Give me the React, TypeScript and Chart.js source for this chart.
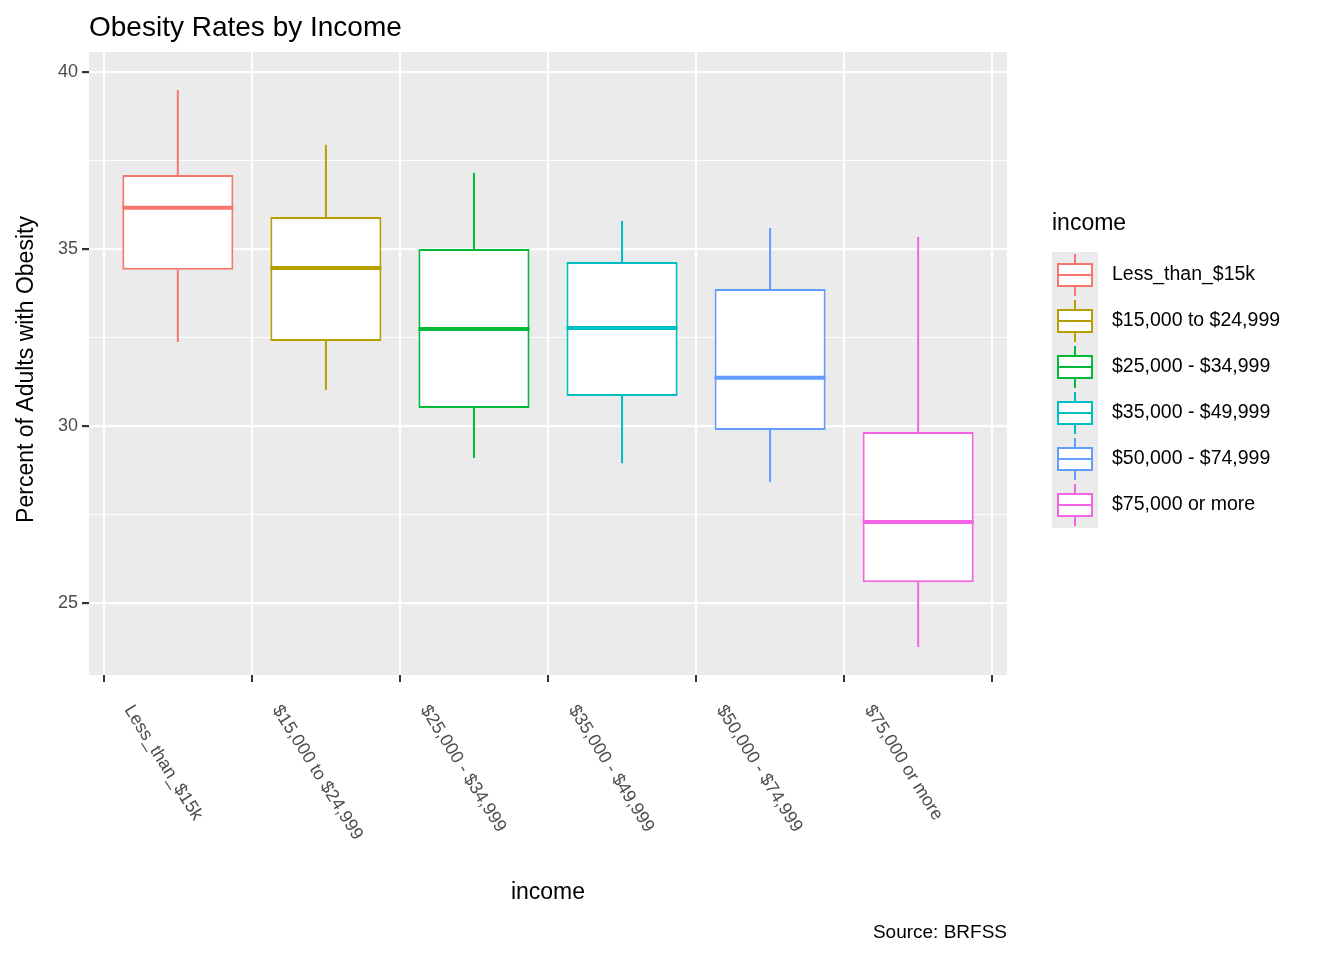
import { useEffect, useRef } from "react";
import { Chart, registerables } from "chart.js";

Chart.register(...registerables);

const categories = [
  "Less_than_$15k",
  "$15,000 to $24,999",
  "$25,000 - $34,999",
  "$35,000 - $49,999",
  "$50,000 - $74,999",
  "$75,000 or more",
];
const lowWhisker = [32.37, 31.02, 29.1, 28.95, 28.42, 23.76];
const q1 = [34.41, 32.4, 30.51, 30.85, 29.89, 25.59];
const median = [36.16, 34.46, 32.74, 32.77, 31.36, 27.29];
const q3 = [37.09, 35.9, 35.0, 34.63, 33.87, 29.83];
const highWhisker = [39.49, 37.94, 37.15, 35.79, 35.59, 35.34];
const colors = ["#F8766D", "#B79F00", "#00BA38", "#00BFC4", "#619CFF", "#F564E3"];

const FONT = "Helvetica, Arial, 'Liberation Sans', sans-serif";

const boxPlugin = {
  id: "boxParts",
  beforeDraw(chart: any) {
    const { ctx, chartArea: a } = chart;
    ctx.save();
    ctx.fillStyle = "#EBEBEB";
    ctx.fillRect(a.left, a.top, a.right - a.left, a.bottom - a.top);
    ctx.restore();
  },
  beforeDatasetsDraw(chart: any) {
    const { ctx } = chart;
    const x = chart.scales.x;
    const y = chart.scales.y;
    ctx.save();
    ctx.lineWidth = 2;
    categories.forEach((_, i) => {
      const px = x.getPixelForValue(i);
      ctx.strokeStyle = colors[i];
      ctx.beginPath();
      ctx.moveTo(px, y.getPixelForValue(highWhisker[i]));
      ctx.lineTo(px, y.getPixelForValue(q3[i]));
      ctx.moveTo(px, y.getPixelForValue(q1[i]));
      ctx.lineTo(px, y.getPixelForValue(lowWhisker[i]));
      ctx.stroke();
    });
    ctx.restore();
  },
  afterDatasetsDraw(chart: any) {
    const { ctx, chartArea: a } = chart;
    const x = chart.scales.x;
    const y = chart.scales.y;
    const step = x.getPixelForValue(1) - x.getPixelForValue(0);
    ctx.save();
    ctx.lineWidth = 4;
    categories.forEach((_, i) => {
      const px = x.getPixelForValue(i);
      const py = y.getPixelForValue(median[i]);
      ctx.strokeStyle = colors[i];
      ctx.beginPath();
      ctx.moveTo(px - step * 0.375, py);
      ctx.lineTo(px + step * 0.375, py);
      ctx.stroke();
    });

    // x tick labels rotated
    ctx.fillStyle = "#4D4D4D";
    ctx.font = `18px ${FONT}`;
    categories.forEach((c, i) => {
      const px = x.getPixelForValue(i);
      ctx.save();
      ctx.translate(px - 42, a.bottom + 27);
      ctx.rotate((58 * Math.PI) / 180);
      ctx.textAlign = "left";
      ctx.textBaseline = "top";
      ctx.fillText(c, 0, 0);
      ctx.restore();
    });

    // titles
    ctx.fillStyle = "#000";
    ctx.textBaseline = "middle";
    ctx.font = `28px ${FONT}`;
    ctx.textAlign = "left";
    ctx.fillText("Obesity Rates by Income", 89, 28);
    ctx.font = `23px ${FONT}`;
    ctx.textAlign = "center";
    ctx.fillText("income", (a.left + a.right) / 2, 893);
    ctx.save();
    ctx.translate(27, (a.top + a.bottom) / 2 + 6);
    ctx.rotate(-Math.PI / 2);
    ctx.fillText("Percent of Adults with Obesity", 0, 0);
    ctx.restore();
    ctx.font = `19px ${FONT}`;
    ctx.textAlign = "right";
    ctx.fillText("Source: BRFSS", a.right, 933);

    // legend
    ctx.textAlign = "left";
    ctx.font = `23px ${FONT}`;
    ctx.fillText("income", 1052, 224);
    ctx.font = `19.5px ${FONT}`;
    const kTop = 252;
    const kh = 46;
    categories.forEach((c, i) => {
      const top = kTop + i * kh;
      ctx.fillStyle = "#EBEBEB";
      ctx.fillRect(1052, top, 46, kh);
      const cx = 1075;
      const cy = top + kh / 2;
      ctx.strokeStyle = colors[i];
      ctx.lineWidth = 2;
      ctx.beginPath();
      ctx.moveTo(cx, top + 2);
      ctx.lineTo(cx, cy - 11);
      ctx.moveTo(cx, cy + 11);
      ctx.lineTo(cx, top + kh - 2);
      ctx.stroke();
      ctx.fillStyle = "#fff";
      ctx.fillRect(1058, cy - 11, 34, 22);
      ctx.strokeRect(1058, cy - 11, 34, 22);
      ctx.beginPath();
      ctx.moveTo(1058, cy);
      ctx.lineTo(1092, cy);
      ctx.stroke();
      ctx.fillStyle = "#000";
      ctx.fillText(c, 1112, cy);
    });
    ctx.restore();
  },
};

export default function App() {
  const ref = useRef<HTMLCanvasElement | null>(null);
  useEffect(() => {
    document.body.style.margin = "0";
    if (!ref.current) return;
    const chart = new Chart(ref.current, {
      type: "bar",
      data: {
        datasets: [
          {
            data: categories.map((_, i) => ({ x: i, y: [q1[i], q3[i]] })) as any,
            backgroundColor: "#FFFFFF",
            borderColor: colors,
            borderWidth: 2,
            borderSkipped: false,
            barPercentage: 0.75,
            categoryPercentage: 1,
          },
        ],
      },
      options: {
        animation: false,
        responsive: false,
        layout: { padding: { top: 52, right: 337, left: 0, bottom: 0 } },
        plugins: { legend: { display: false }, tooltip: { enabled: false } },
        scales: {
          x: {
            type: "linear",
            min: -0.6,
            max: categories.length - 0.4,
            offset: false,
            afterBuildTicks: (s: any) => {
              s.ticks = categories.map((_, i) => ({ value: i }));
            },
            grid: {
              color: "#FFFFFF",
              lineWidth: 2,
              tickColor: "#333333",
              tickLength: 7,
            },
            border: { display: false },
            ticks: { display: false },
            afterFit: (s: any) => {
              s.height = 960 - 675;
            },
          },
          y: {
            min: 22.97,
            max: 40.56,
            afterBuildTicks: (s: any) => {
              s.ticks = [22.5, 25, 27.5, 30, 32.5, 35, 37.5, 40]
                .filter((v) => v >= s.min && v <= s.max)
                .map((v) => ({ value: v }));
            },
            grid: {
              color: "#FFFFFF",
              lineWidth: (c: any) => (c.tick && c.tick.value % 5 === 0 ? 2.2 : 1.1),
              tickColor: (c: any) =>
                c.tick && c.tick.value % 5 === 0 ? "#333333" : "rgba(0,0,0,0)",
              tickLength: 7,
            },
            border: { display: false },
            ticks: {
              color: "#4D4D4D",
              font: { size: 18, family: FONT },
              padding: 4,
              callback: (v: any) => (Number(v) % 5 === 0 ? String(v) : ""),
            },
            afterFit: (s: any) => {
              s.width = 89;
            },
          },
        },
      },
      plugins: [boxPlugin],
    });
    return () => chart.destroy();
  }, []);
  return (
    <div style={{ width: 1344, height: 960, background: "#fff" }}>
      <canvas ref={ref} width={1344} height={960} style={{ width: 1344, height: 960 }} />
    </div>
  );
}
